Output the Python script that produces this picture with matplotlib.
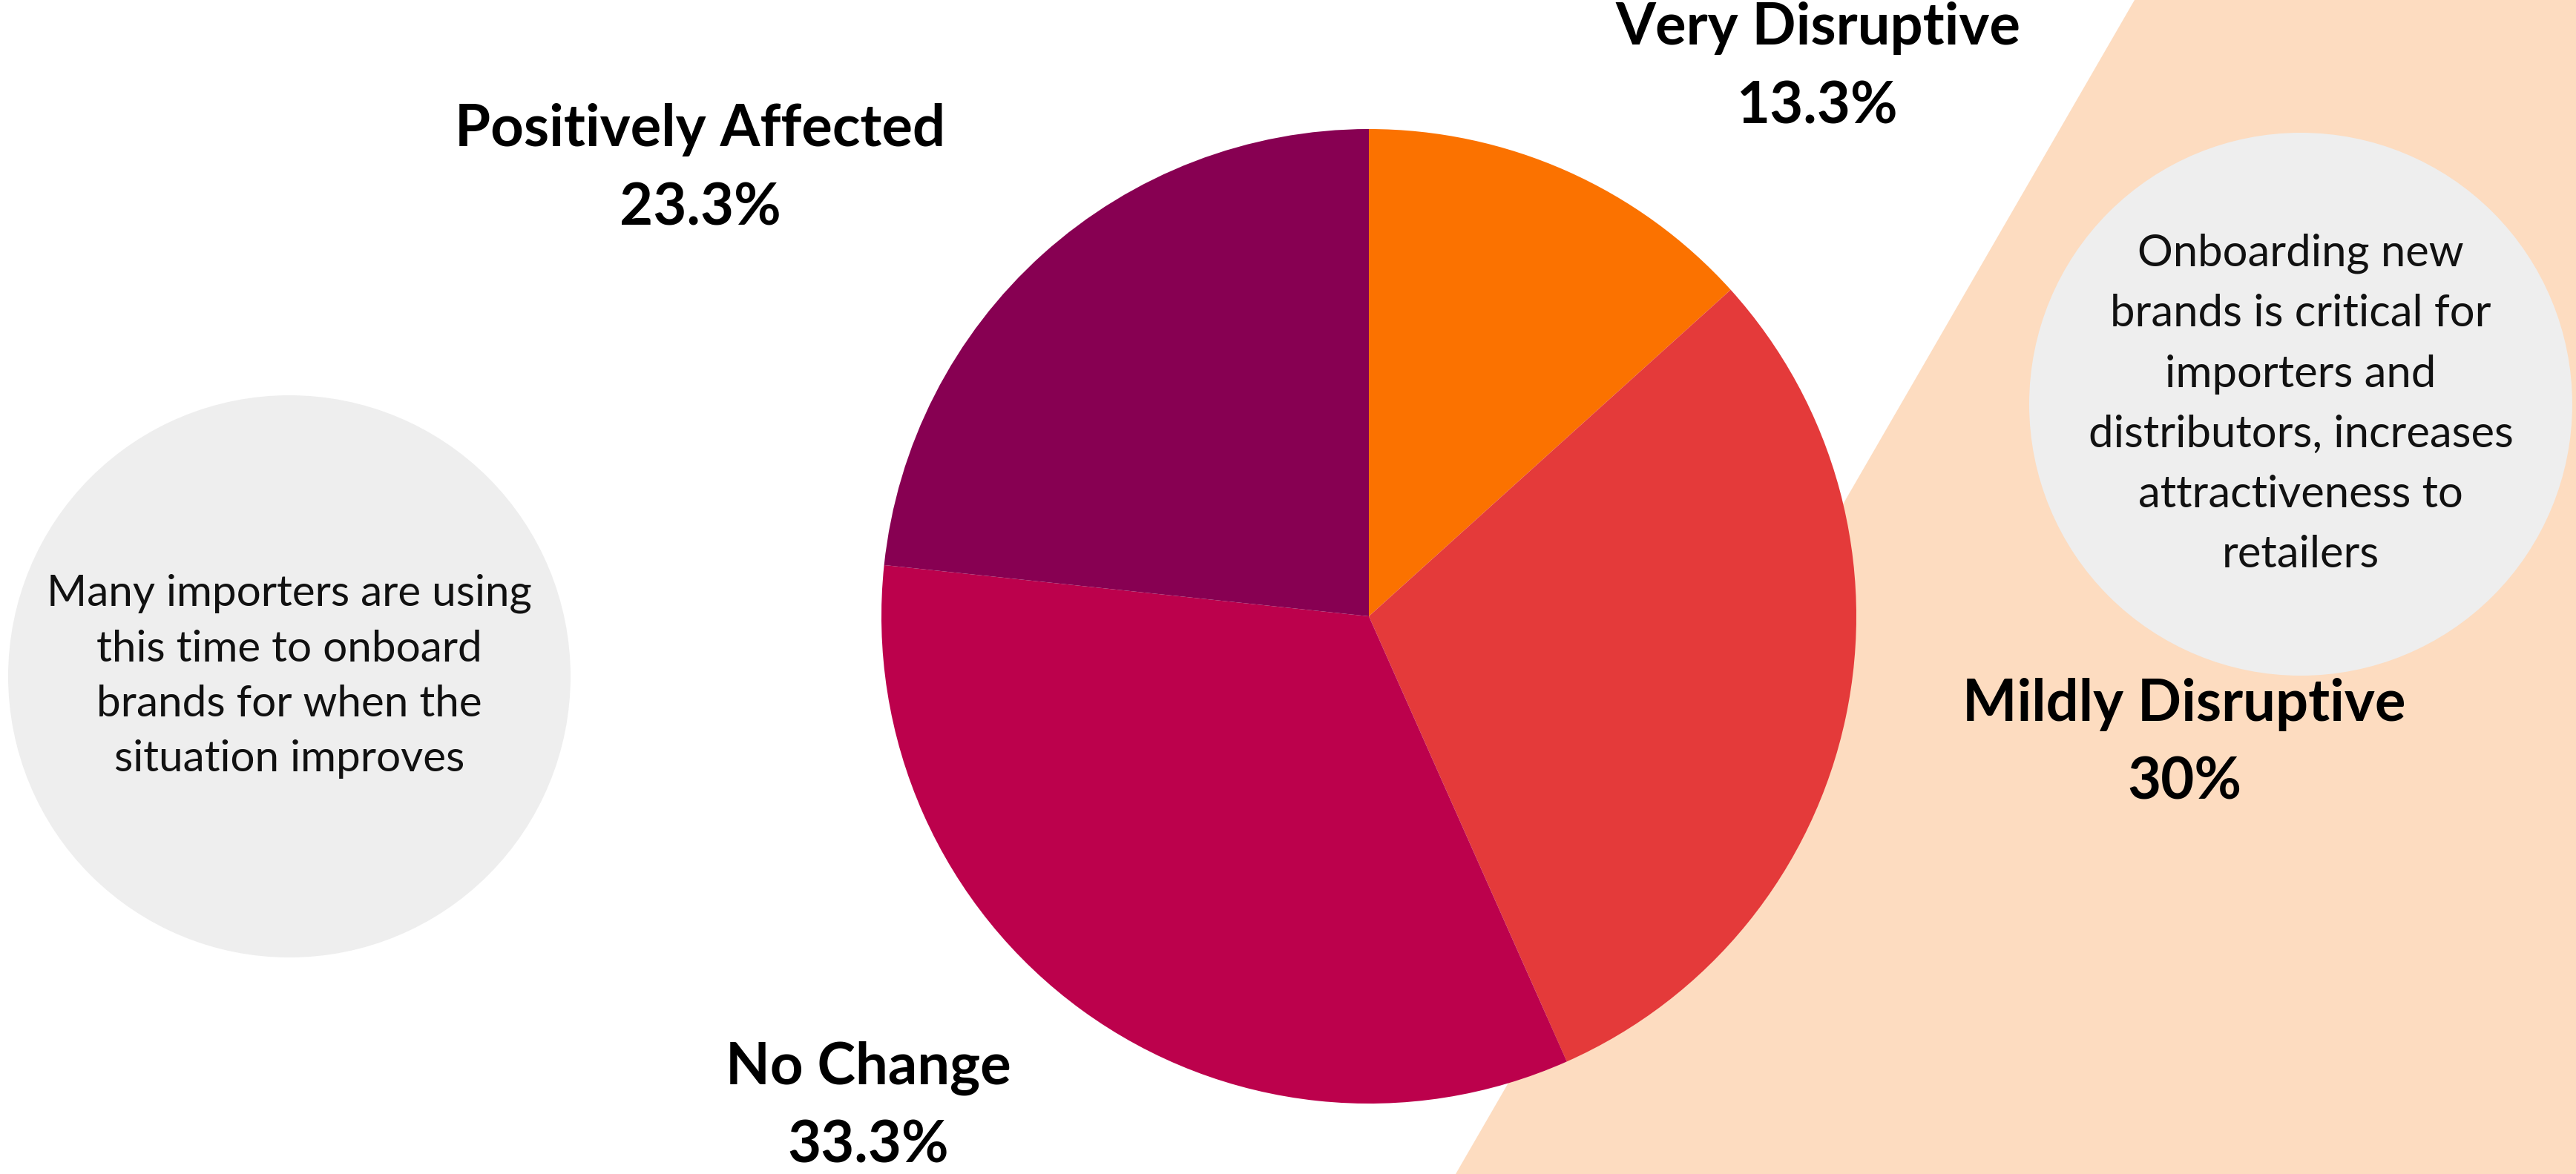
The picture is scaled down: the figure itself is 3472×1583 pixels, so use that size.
import matplotlib.pyplot as plt
from matplotlib.patches import Circle, Polygon

# Survey answers, clockwise from 12 o'clock
categories = ["Very Disruptive", "Mildly Disruptive", "No Change", "Positively Affected"]
shares = [13.3, 30, 33.3, 23.3]
colors = ["#FB7200", "#E43A3A", "#BC014C", "#870052"]

left_note = "Many importers are using\nthis time to onboard\nbrands for when the\nsituation improves"
right_note = ("Onboarding new\nbrands is critical for\nimporters and\n"
              "distributors, increases\nattractiveness to\nretailers")

W, H = 3473, 1583
PIE_X, PIE_Y, PIE_R = 1845, 831, 657

# label anchor (x, y of the name line) in pixel space, y measured from the top
label_pos = {
    "Very Disruptive": (2450, 38),
    "Mildly Disruptive": (2944, 950),
    "No Change": (1170, 1440),
    "Positively Affected": (944, 175),
}

fig = plt.figure(figsize=(W / 100, H / 100), dpi=100)
ax = fig.add_axes([0, 0, 1, 1])

# peach band on the right
band = Polygon([(2877, H), (W, H), (W, 0), (1962, 0)], closed=True,
               facecolor="#FDDCC0", edgecolor="none", zorder=0)
ax.add_patch(band)

# grey note bubbles
ax.add_patch(Circle((390, H - 912), 379, facecolor="#EEEEEE", edgecolor="none", zorder=1))
ax.add_patch(Circle((3101, H - 545), 366, facecolor="#EEEEEE", edgecolor="none", zorder=1))

ax.pie(shares, colors=colors, startangle=90, counterclock=False,
       center=(PIE_X, H - PIE_Y), radius=PIE_R, frame=True,
       wedgeprops=dict(linewidth=0))

for name, val in zip(categories, shares):
    x, y = label_pos[name]
    ax.text(x, H - y, name, ha="center", va="center", fontsize=56,
            fontweight="bold", family="Lato", color="black")
    ax.text(x, H - y - 106, f"{val:g}%", ha="center", va="center", fontsize=56,
            fontweight="bold", family="Lato", color="black")

ax.text(390, H - 912, left_note, ha="center", va="center", fontsize=42,
        family="Lato", linespacing=1.5, color="#111111")
ax.text(3101, H - 545, right_note, ha="center", va="center", fontsize=43,
        family="Lato", linespacing=1.62, color="#111111")

ax.set_xlim(0, W)
ax.set_ylim(0, H)
ax.set_aspect("auto")
ax.axis("off")

fig.savefig("out.png", dpi=100, facecolor="white")
